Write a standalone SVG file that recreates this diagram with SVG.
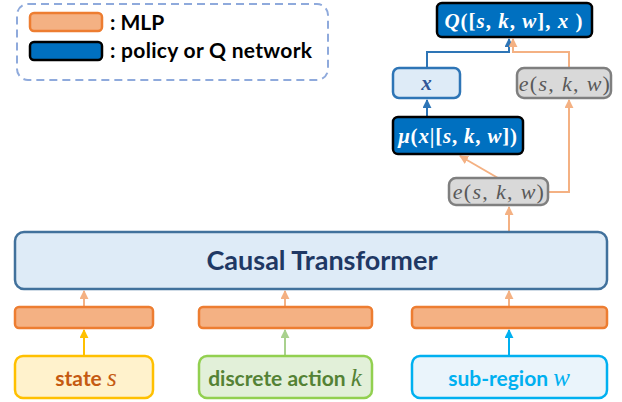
<svg xmlns="http://www.w3.org/2000/svg" width="622" height="402" viewBox="0 0 622 402">
<defs>
<style>
.lbl{font-family:Lato,"Liberation Sans",sans-serif;font-weight:bold}
.m{font-family:"Liberation Serif","DejaVu Serif",serif;font-style:italic}
.u{font-style:normal}
.mlp{fill:#F4B183;stroke:#ED7D31;stroke-width:2.5}
.pol{fill:#0070C0;stroke:#000;stroke-width:2.5}
.emb{fill:#D9D9D9;stroke:#7F7F7F;stroke-width:2.5}
.c{fill:none;stroke-width:2}
</style>
<marker id="ao" viewBox="0 0 10 10" refX="9" refY="5" markerWidth="4.5" markerHeight="4.5" orient="auto"><path d="M0,0L10,5L0,10z" fill="#F4B183"/></marker>
<marker id="ab" viewBox="0 0 10 10" refX="9" refY="5" markerWidth="4.5" markerHeight="4.5" orient="auto"><path d="M0,0L10,5L0,10z" fill="#2E75B6"/></marker>
<marker id="ay" viewBox="0 0 10 10" refX="9" refY="5" markerWidth="4.5" markerHeight="4.5" orient="auto"><path d="M0,0L10,5L0,10z" fill="#FFC000"/></marker>
<marker id="ag" viewBox="0 0 10 10" refX="9" refY="5" markerWidth="4.5" markerHeight="4.5" orient="auto"><path d="M0,0L10,5L0,10z" fill="#A9D18E"/></marker>
<marker id="ac" viewBox="0 0 10 10" refX="9" refY="5" markerWidth="4.5" markerHeight="4.5" orient="auto"><path d="M0,0L10,5L0,10z" fill="#00B0F0"/></marker>
</defs>
<rect width="622" height="402" fill="#fff"/>

<g id="legend">
<rect x="17" y="4" width="311" height="76" rx="11" fill="none" stroke="#8FAADC" stroke-width="2" stroke-dasharray="8,5"/>
<rect x="30" y="13" width="72" height="18" rx="4" class="mlp"/>
<rect x="30" y="42" width="72" height="18" rx="4" class="pol"/>
<text x="110" y="30" class="lbl" font-size="21" fill="#000">: MLP</text>
<text x="110" y="58" class="lbl" font-size="21" letter-spacing="0.3" fill="#000">: policy or Q network</text>
</g>

<g id="connectors">
<line x1="84" y1="355" x2="84" y2="330" class="c" stroke="#FFC000" marker-end="url(#ay)"/>
<line x1="285" y1="355" x2="285" y2="330" class="c" stroke="#A9D18E" marker-end="url(#ag)"/>
<line x1="509" y1="355" x2="509" y2="330" class="c" stroke="#00B0F0" marker-end="url(#ac)"/>
<line x1="84" y1="306" x2="84" y2="291" class="c" stroke="#F4B183" marker-end="url(#ao)"/>
<line x1="285" y1="306" x2="285" y2="291" class="c" stroke="#F4B183" marker-end="url(#ao)"/>
<line x1="509" y1="306" x2="509" y2="291" class="c" stroke="#F4B183" marker-end="url(#ao)"/>
<line x1="509" y1="231" x2="509" y2="207" class="c" stroke="#F4B183" marker-end="url(#ao)"/>
<line x1="498" y1="178" x2="460" y2="156" class="c" stroke="#F4B183" marker-end="url(#ao)"/>
<polyline points="549,192 569,192 569,100" class="c" stroke="#F4B183" marker-end="url(#ao)"/>
<line x1="427" y1="116" x2="427" y2="100" class="c" stroke="#2E75B6" marker-end="url(#ab)"/>
<polyline points="427,67 427,52 509,52 509,39" class="c" stroke="#2E75B6" marker-end="url(#ab)"/>
<polyline points="569,67 569,52 513,52 513,39" class="c" stroke="#F4B183" marker-end="url(#ao)"/>
</g>

<g id="transformer">
<rect x="15" y="232" width="592" height="57" rx="9" fill="#DEEBF7" stroke="#41719C" stroke-width="2.5"/>
<text x="322" y="270" text-anchor="middle" class="lbl" font-size="27" fill="#1F3864">Causal Transformer</text>
</g>

<g id="mlp-state"><rect x="15" y="307" width="138" height="21" rx="4" class="mlp"/></g>
<g id="mlp-action"><rect x="199" y="307" width="173" height="21" rx="4" class="mlp"/></g>
<g id="mlp-region"><rect x="412" y="307" width="195" height="21" rx="4" class="mlp"/></g>

<g id="state">
<rect x="15" y="356" width="138" height="42" rx="8" fill="#FFF2CC" stroke="#FFC000" stroke-width="2.5"/>
<text x="86" y="386" text-anchor="middle" font-size="21" fill="#C55A11"><tspan class="lbl">state </tspan><tspan class="m" font-size="25">s</tspan></text>
</g>
<g id="action">
<rect x="199" y="356" width="173" height="42" rx="8" fill="#E2F0D9" stroke="#92D050" stroke-width="2.5"/>
<text x="285" y="386" text-anchor="middle" font-size="21" fill="#548235"><tspan class="lbl">discrete action </tspan><tspan class="m" font-size="25">k</tspan></text>
</g>
<g id="region">
<rect x="412" y="356" width="195" height="42" rx="8" fill="#EAF4FB" stroke="#00B0F0" stroke-width="2.5"/>
<text x="509" y="386" text-anchor="middle" font-size="21" fill="#00B0F0"><tspan class="lbl">sub-region </tspan><tspan class="m" font-size="25">w</tspan></text>
</g>

<g id="e-bottom">
<rect x="449" y="178" width="99" height="27" rx="7" class="emb"/>
<text x="499" y="199" text-anchor="middle" class="m" font-size="22" letter-spacing="1.3" fill="#595959">e<tspan class="u">(</tspan>s<tspan class="u">, </tspan>k<tspan class="u">, </tspan>w<tspan class="u">)</tspan></text>
</g>
<g id="e-top">
<rect x="517" y="68" width="94" height="30" rx="7" class="emb"/>
<text x="565" y="91" text-anchor="middle" class="m" font-size="22" letter-spacing="1.3" fill="#595959">e<tspan class="u">(</tspan>s<tspan class="u">, </tspan>k<tspan class="u">, </tspan>w<tspan class="u">)</tspan></text>
</g>
<g id="mu">
<rect x="393" y="117" width="130" height="37" rx="5" class="pol"/>
<text x="458" y="143" text-anchor="middle" class="m" font-weight="bold" font-size="21" letter-spacing="0.8" fill="#fff">μ<tspan class="u">(</tspan>x<tspan class="u">|[</tspan>s<tspan class="u">, </tspan>k<tspan class="u">, </tspan>w<tspan class="u">])</tspan></text>
</g>
<g id="x-node">
<rect x="393" y="68" width="67" height="30" rx="6" fill="#DEEBF7" stroke="#2E75B6" stroke-width="2.5"/>
<text x="426.5" y="90" text-anchor="middle" class="m" font-weight="bold" font-size="21" fill="#2F5597">x</text>
</g>
<g id="q-node">
<rect x="437" y="3" width="155" height="34" rx="5" class="pol"/>
<text x="514" y="28" text-anchor="middle" class="m" font-weight="bold" font-size="21" letter-spacing="1" fill="#fff">Q<tspan class="u">([</tspan>s<tspan class="u">, </tspan>k<tspan class="u">, </tspan>w<tspan class="u">], </tspan>x<tspan class="u"> )</tspan></text>
</g>
</svg>
